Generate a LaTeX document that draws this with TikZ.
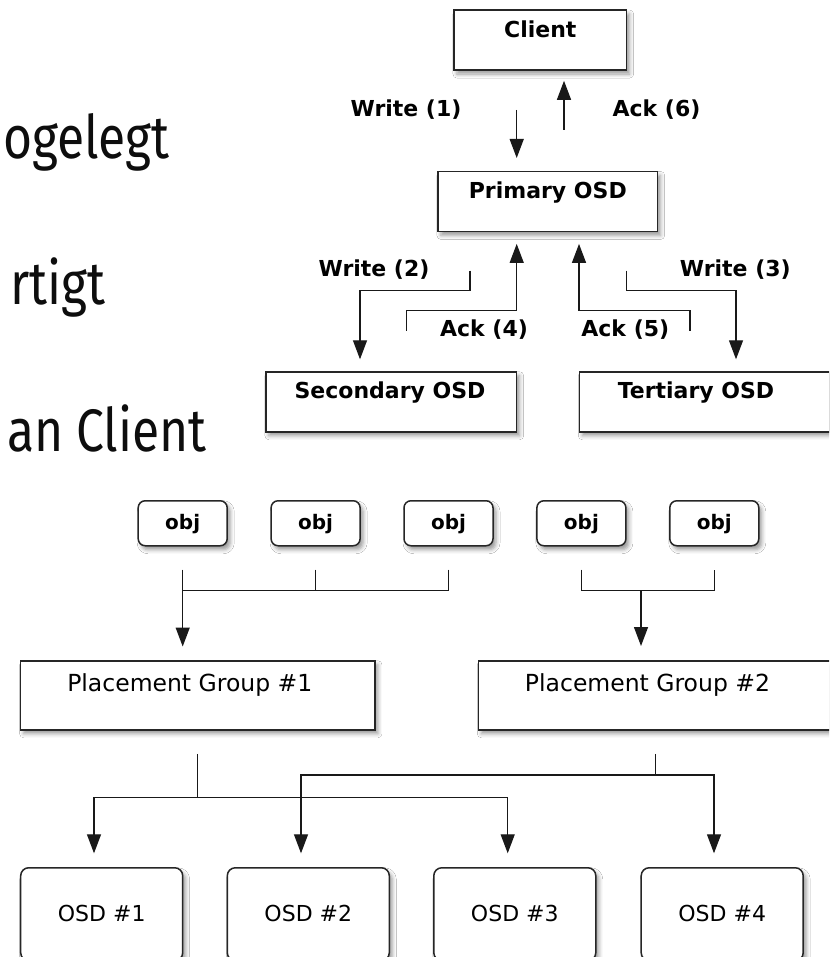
\documentclass[tikz,border=0pt]{standalone}
\usepackage{fontspec}
\setmainfont{Fira Sans}
\newfontfamily\dejavu{DejaVu Sans}
\usetikzlibrary{arrows.meta,shadows.blur}

\tikzset{
  box/.style={draw=black!85, line width=1.5pt, fill=white, inner xsep=0pt, inner ysep=0pt,
    blur shadow={shadow xshift=3pt, shadow yshift=-4pt, shadow blur radius=4pt, shadow opacity=40}},
  % plain boxes of the write/ack diagram, caption near the top edge
  osdtop/.style={box, anchor=north, minimum height=60pt, text height=27pt, text depth=33pt,
    font=\dejavu\bfseries\fontsize{22}{26}\selectfont},
  pgbox/.style={box, anchor=north, minimum width=354.3pt, minimum height=69pt,
    text height=30.3pt, text depth=38.7pt, font=\dejavu\fontsize{23.5}{28}\selectfont},
  objbox/.style={box, anchor=north, rounded corners=7pt, minimum width=89pt, minimum height=45pt,
    text height=28.5pt, text depth=16.5pt, font=\dejavu\bfseries\fontsize{20}{24}\selectfont},
  osdbox/.style={box, anchor=north, rounded corners=8pt, minimum width=162pt, minimum height=93pt,
    text height=53.5pt, text depth=39.5pt, font=\dejavu\fontsize{22}{26}\selectfont},
  lbl/.style={inner sep=0pt, font=\dejavu\bfseries\fontsize{22}{26}\selectfont},
  bigtxt/.style={inner sep=0pt, anchor=base east, text=black!95, font=\fontsize{60}{70}\selectfont},
  conn/.style={line width=1.3pt, draw=black!90},
  arr/.style={conn, -{Triangle[length=19pt,width=14pt]}},
}

\begin{document}
\begin{tikzpicture}[x=1pt,y=-1pt]
\useasboundingbox (0,0) rectangle (829,957);
\clip (0,0) rectangle (829,957);
\fill[white] (0,0) rectangle (829,957);

% slide text along the left edge
\node[bigtxt] (t1) at (170,158.3) {\scalebox{0.83}[1]{ogelegt}};
\node[bigtxt] (t2) at (106,305) {\scalebox{0.83}[1]{rtigt}};
\node[bigtxt] (t3) at (207,451.7) {\scalebox{0.83}[1]{an Client}};

% ---- write / acknowledge sequence ----
\node[osdtop, minimum width=172.7pt] (client) at (540.3,9.3) {Client};
\node[osdtop, minimum width=219.7pt] (primary) at (547.8,170.7) {Primary OSD};
\node[osdtop, minimum width=250.7pt] (secondary) at (391.3,371) {Secondary OSD\hspace*{2.6pt}};
\node[osdtop, minimum width=250.7pt] (tertiary) at (704.7,371) {Tertiary OSD\hspace*{17.4pt}};

\node[lbl] (w1) at (406,110) {Write (1)};
\node[lbl] (a6) at (656.5,110) {Ack (6)};
\node[lbl] (w2) at (374,270) {Write (2)};
\node[lbl] (w3) at (735.3,270) {Write (3)};
\node[lbl] (a4) at (484,330) {Ack (4)};
\node[lbl] (a5) at (625.3,330) {Ack (5)};

\coordinate (w1s) at (516.7,110);
\draw[arr, shorten >=12.7pt] (w1s) -- (w1s |- primary.north);
\coordinate (a6s) at (564,130);
\draw[arr, shorten >=10pt] (a6s) -- (a6s |- client.south);
\coordinate (w2s) at (470,270.7);
\draw[arr, shorten >=11.7pt] (w2s) -- ++(0,20) -| ([xshift=-31.3pt]secondary.north);
\coordinate (a4s) at (406.7,330.7);
\draw[arr, shorten >=11.7pt] (a4s) -- ++(0,-20) -| ([xshift=-31.1pt]primary.south);
\coordinate (a5s) at (690,330.7);
\draw[arr, shorten >=11.7pt] (a5s) -- ++(0,-20) -| ([xshift=31.2pt]primary.south);
\coordinate (w3s) at (626.7,270.7);
\draw[arr, shorten >=11.7pt] (w3s) -- ++(0,20) -| ([xshift=31.3pt]tertiary.north);

% ---- objects -> placement groups -> OSDs ----
\node[objbox] (obj1) at (182.7,500) {obj};
\node[objbox] (obj2) at (315.6,500) {obj};
\node[objbox] (obj3) at (448.5,500) {obj};
\node[objbox] (obj4) at (581.4,500) {obj};
\node[objbox] (obj5) at (714.3,500) {obj};

\node[pgbox] (pg1) at (197.8,660) {Placement Group \#1\hspace*{16pt}};
\node[pgbox] (pg2) at (655.5,660) {Placement Group \#2\hspace*{16pt}};

\node[osdbox] (osd1) at (101.7,867) {OSD \#1};
\node[osdbox] (osd2) at (308.3,867) {OSD \#2};
\node[osdbox] (osd3) at (514.8,867) {OSD \#3};
\node[osdbox] (osd4) at (722.2,867) {OSD \#4};

% objects gathered into placement group 1
\coordinate (j1) at (182.7,590.7);
\draw[conn] ([yshift=-23pt]obj3.south) |- (j1);
\draw[conn] ([yshift=-23pt]obj2.south) -- (obj2.south |- j1);
\draw[arr, shorten >=13.5pt] ([yshift=-23pt]obj1.south) -- (obj1.south |- pg1.north);

% objects gathered into placement group 2
\coordinate (j2) at (641,590.7);
\draw[conn] ([yshift=-23pt]obj4.south) |- (obj5.south |- j2) -- ([yshift=-23pt]obj5.south);
\draw[arr, shorten >=14pt] (j2) -- (j2 |- pg2.north);

% placement groups mapped onto OSDs
\coordinate (b1) at (0,797.7);
\coordinate (b2) at (0,775);
\draw[conn] ([yshift=-23.3pt]pg1.south) -- (pg1.south |- b1);
\draw[arr, shorten >=13.7pt] (pg1.south |- b1) -| ([xshift=-7.7pt]osd1.north);
\draw[arr, shorten >=13.7pt] (pg1.south |- b1) -| ([xshift=-7.1pt]osd3.north);
\draw[conn] ([yshift=-23.3pt]pg2.south) -- (pg2.south |- b2);
\draw[arr, shorten >=13.7pt] (pg2.south |- b2) -| ([xshift=-7.3pt]osd2.north);
\draw[arr, shorten >=13.7pt] (pg2.south |- b2) -| ([xshift=-8.2pt]osd4.north);
\end{tikzpicture}
\end{document}
